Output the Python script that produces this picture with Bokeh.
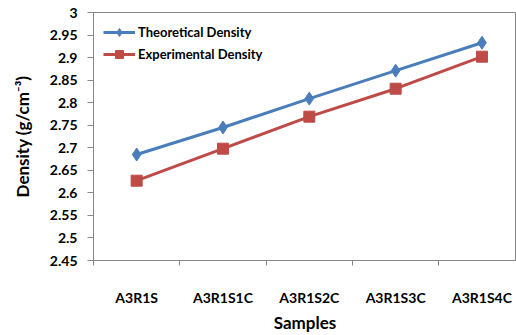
from bokeh.plotting import figure
from bokeh.models import Range1d, FixedTicker, Legend, LegendItem
from bokeh.embed import file_html
from bokeh.resources import INLINE

samples = ["A3R1S", "A3R1S1C", "A3R1S2C", "A3R1S3C", "A3R1S4C"]
theoretical = [2.685, 2.745, 2.809, 2.871, 2.933]
experimental = [2.627, 2.698, 2.769, 2.831, 2.902]
y_ticks = [2.45, 2.5, 2.55, 2.6, 2.65, 2.7, 2.75, 2.8, 2.85, 2.9, 2.95, 3.0]

FONT = "Lato"
BLUE = "#4a7ebb"
RED = "#be4b48"
GREY = "#868686"
BLACK = "#000000"

x = [i + 0.5 for i in range(len(samples))]

p = figure(width=516, height=335, output_backend="svg", toolbar_location=None,
           x_range=Range1d(0, 4.9), y_range=Range1d(2.45, 3.0),
           min_border_left=93, min_border_right=0, min_border_top=12, min_border_bottom=75)
p.outline_line_color = GREY
p.outline_line_width = 1
p.xgrid.visible = False
p.ygrid.visible = False

# y axis
p.yaxis.ticker = FixedTicker(ticks=y_ticks, minor_ticks=[])
p.yaxis.major_label_overrides = {t: f"{t:g}" for t in y_ticks}
p.yaxis.axis_line_color = GREY
p.yaxis.major_tick_line_color = GREY
p.yaxis.major_tick_out = 6
p.yaxis.major_tick_in = 0
p.yaxis.major_label_standoff = 10
p.yaxis.major_label_text_font = FONT
p.yaxis.major_label_text_font_style = "bold"
p.yaxis.major_label_text_font_size = "14px"
p.yaxis.major_label_text_color = BLACK
p.yaxis.axis_label = "Density (g/cm\u207b\u00b3)"
p.yaxis.axis_label_text_font = FONT
p.yaxis.axis_label_text_font_style = "bold"
p.yaxis.axis_label_text_font_size = "17px"
p.yaxis.axis_label_text_color = BLACK
p.yaxis.axis_label_standoff = 14

# x axis: labels at category centres, tick marks at category boundaries
p.xaxis.ticker = FixedTicker(ticks=x, minor_ticks=[0, 1, 2, 3, 4, 5])
p.xaxis.major_label_overrides = {v: s for v, s in zip(x, samples)}
p.xaxis.axis_line_color = GREY
p.xaxis.major_tick_line_color = None
p.xaxis.major_tick_out = 0
p.xaxis.major_tick_in = 0
p.xaxis.minor_tick_line_color = GREY
p.xaxis.minor_tick_out = 5
p.xaxis.minor_tick_in = 0
p.xaxis.major_label_standoff = 23
p.xaxis.major_label_text_font = FONT
p.xaxis.major_label_text_font_style = "bold"
p.xaxis.major_label_text_font_size = "14px"
p.xaxis.major_label_text_color = BLACK
p.xaxis.axis_label = "Samples"
p.xaxis.axis_label_text_font = FONT
p.xaxis.axis_label_text_font_style = "bold"
p.xaxis.axis_label_text_font_size = "17px"
p.xaxis.axis_label_text_color = BLACK
p.xaxis.axis_label_standoff = 3

l1 = p.line(x, theoretical, line_color=BLUE, line_width=3)
m1 = p.scatter(x, theoretical, marker="diamond", size=13, fill_color=BLUE, line_color=BLUE)
l2 = p.line(x, experimental, line_color=RED, line_width=3)
m2 = p.scatter(x, experimental, marker="square", size=11, fill_color=RED, line_color=RED)

legend = Legend(items=[LegendItem(label="Theoretical Density", renderers=[l1, m1]),
                       LegendItem(label="Experimental Density", renderers=[l2, m2])],
                location="top_left")
legend.border_line_color = None
legend.background_fill_alpha = 0
legend.label_text_font = FONT
legend.label_text_font_style = "bold"
legend.label_text_font_size = "13px"
legend.label_text_color = BLACK
legend.glyph_width = 32
legend.label_standoff = 3
legend.spacing = 2
legend.padding = 4
legend.margin = 10
p.add_layout(legend)

open("out.html", "w").write(file_html(p, INLINE))
